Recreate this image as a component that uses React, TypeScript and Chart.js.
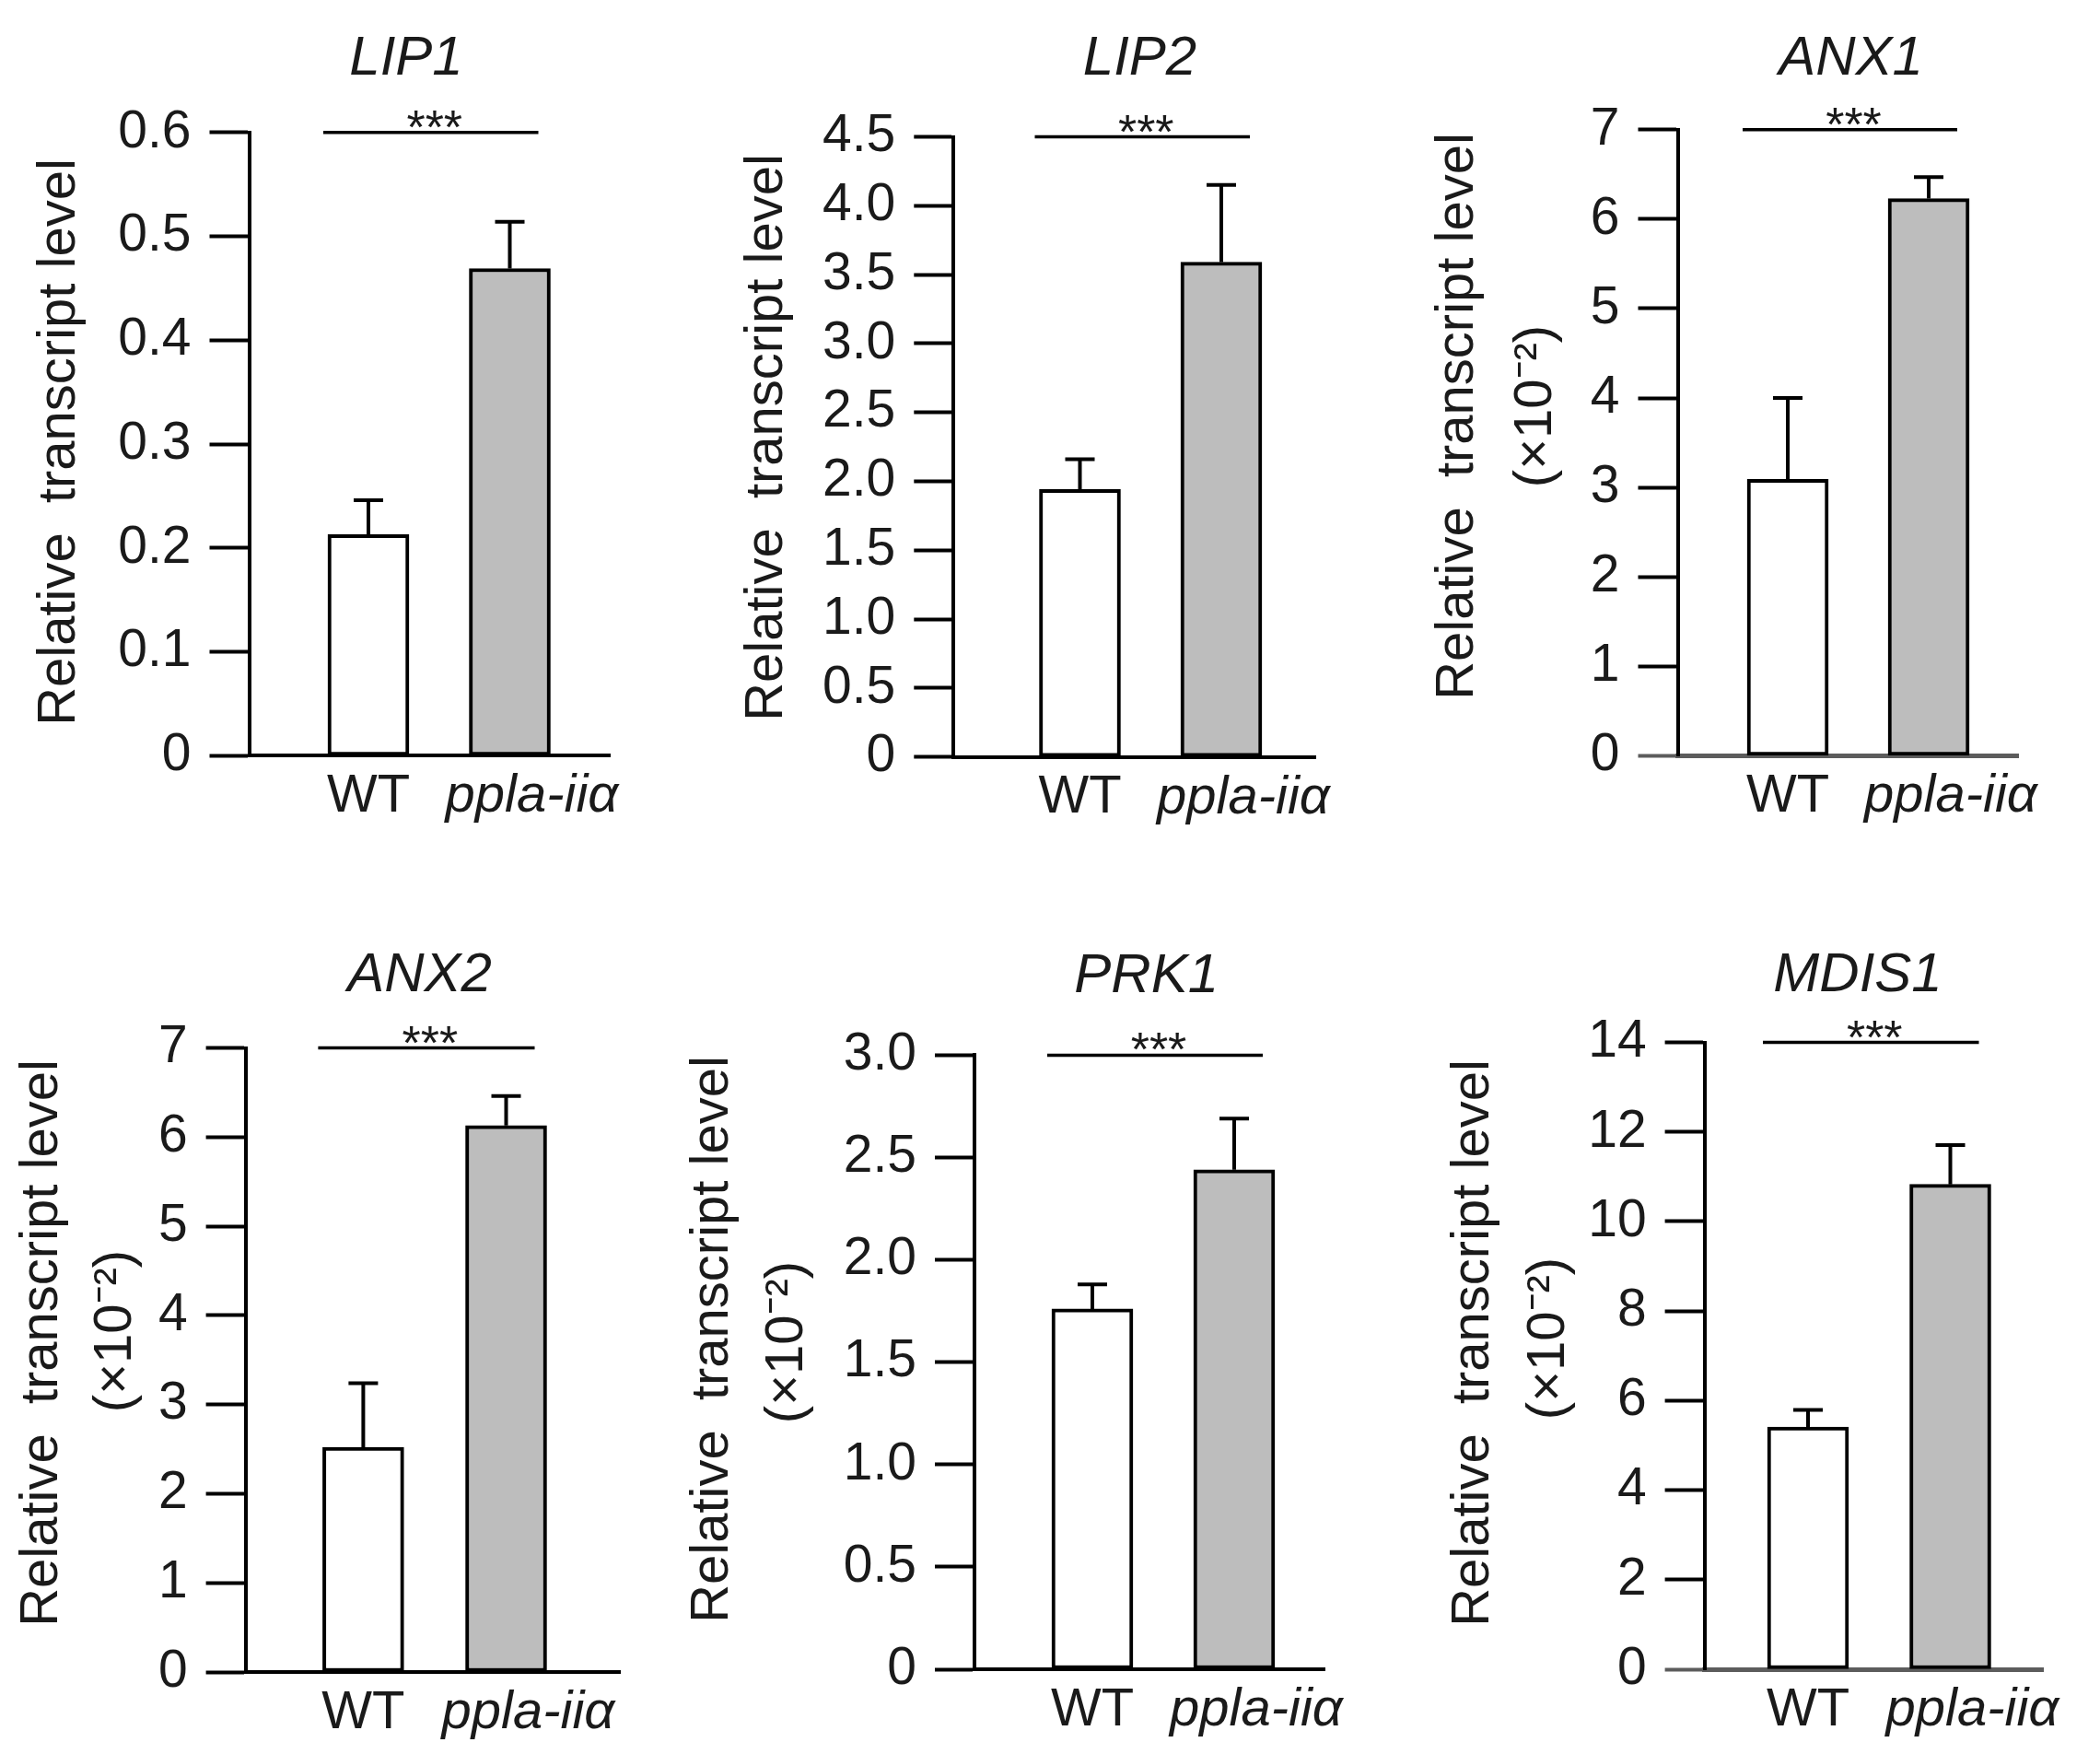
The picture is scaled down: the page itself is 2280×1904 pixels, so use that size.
import React, { useEffect, useRef } from 'react';
import { Chart, registerables } from 'chart.js';

Chart.register(...registerables);

// ---- data -------------------------------------------------------------
const genes = ['LIP1', 'LIP2', 'ANX1', 'ANX2', 'PRK1', 'MDIS1'];
const groups = ['WT', 'ppla-iiα'];
const wtMean = [0.213, 1.94, 3.09, 2.52, 1.76, 5.41];
const wtErr = [0.033, 0.22, 0.91, 0.72, 0.12, 0.38];
const mutantMean = [0.469, 3.59, 6.23, 6.13, 2.44, 10.83];
const mutantErr = [0.045, 0.56, 0.24, 0.33, 0.25, 0.88];
const axisMax = [0.6, 4.5, 7, 7, 3.0, 14];
const axisStep = [0.1, 0.5, 1, 1, 0.5, 2];
const axisDecimals = [1, 1, 0, 0, 1, 0];
const unitNotes = ['', '', '(×10⁻²)', '(×10⁻²)', '(×10⁻²)', '(×10⁻²)'];
const significance = ['***', '***', '***', '***', '***', '***'];
const yTitle = 'Relative  transcript level';

// ---- layout (page pixels) ---------------------------------------------
const ROW_H = 952;
const FONT = '"Liberation Sans", Arial, Helvetica, sans-serif';
const TEXT = '#1a1a1a';

type Box = {
  left: number; right: number; top: number;
  plotLeft: number; plotRight: number; plotTop: number; plotBottom: number;
  wtX: number; mutX: number;
  titleX: number; titleY: number;
  labelX: number; labelY: number;
  noteX: number; noteY: number;
  baseColor: string;
};

const boxes: Box[] = [
  { left: 0, right: 760, top: 0, plotLeft: 270.5, plotRight: 662, plotTop: 143.8, plotBottom: 820.4, wtX: 400, mutX: 553.5,
    titleX: 441, titleY: 59, labelX: 65, labelY: 480, noteX: 0, noteY: 0, baseColor: '#000' },
  { left: 740, right: 1520, top: 0, plotLeft: 1035.3, plotRight: 1428, plotTop: 148.5, plotBottom: 821.6, wtX: 1172.5, mutX: 1326,
    titleX: 1237.5, titleY: 59, labelX: 833, labelY: 475, noteX: 0, noteY: 0, baseColor: '#000' },
  { left: 1500, right: 2280, top: 0, plotLeft: 1821.5, plotRight: 2191.4, plotTop: 140.8, plotBottom: 820.4, wtX: 1941, mutX: 2094,
    titleX: 2009.6, titleY: 59, labelX: 1583, labelY: 452, noteX: 1668, noteY: 441, baseColor: '#5c5c5c' },
  { left: 0, right: 760, top: 952, plotLeft: 266.6, plotRight: 673.8, plotTop: 1137.6, plotBottom: 1815, wtX: 394.4, mutX: 549.5,
    titleX: 455.6, titleY: 1054, labelX: 46, labelY: 1458, noteX: 126, noteY: 1445, baseColor: '#000' },
  { left: 700, right: 1520, top: 952, plotLeft: 1058, plotRight: 1438.6, plotTop: 1145.4, plotBottom: 1812, wtX: 1186, mutX: 1340,
    titleX: 1244.7, titleY: 1055, labelX: 774, labelY: 1454, noteX: 855, noteY: 1457, baseColor: '#000' },
  { left: 1500, right: 2280, top: 952, plotLeft: 1850.6, plotRight: 2218, plotTop: 1131.6, plotBottom: 1812, wtX: 1963, mutX: 2117.5,
    titleX: 2017, titleY: 1054, labelX: 1600, labelY: 1458, noteX: 1682, noteY: 1453, baseColor: '#5c5c5c' },
];

const BAR_W = 88;
const LINE_W = 4;
const LABEL_SHIFT_PX = 24; // mutant label sits a little right of its bar

function GenePanel({ index }: { index: number }) {
  const ref = useRef<HTMLCanvasElement>(null);
  const b = boxes[index];
  const width = b.right - b.left;

  useEffect(() => {
    const spacing = b.mutX - b.wtX;
    const xMin = 1 - (b.wtX - b.plotLeft) / spacing;
    const xMax = 2 + (b.plotRight - b.mutX) / spacing;
    const labelShift = LABEL_SHIFT_PX / spacing;

    const decorations = {
      id: 'decorations',
      afterDatasetsDraw(chart: any) {
        const ctx = chart.ctx;
        const ys = chart.scales.y;
        const meta = chart.getDatasetMeta(0);
        const means = [wtMean[index], mutantMean[index]];
        const errs = [wtErr[index], mutantErr[index]];
        ctx.save();
        ctx.strokeStyle = '#000';
        ctx.lineWidth = LINE_W;
        ctx.lineCap = 'butt';
        // upper error bars
        meta.data.forEach((bar: any, k: number) => {
          const yTop = ys.getPixelForValue(means[k] + errs[k]);
          ctx.beginPath();
          ctx.moveTo(bar.x, bar.y);
          ctx.lineTo(bar.x, yTop);
          ctx.moveTo(bar.x - 16, yTop);
          ctx.lineTo(bar.x + 16, yTop);
          ctx.stroke();
        });
        // significance bracket
        const lineY = ys.getPixelForValue(axisMax[index]);
        const x0 = meta.data[0].x - BAR_W / 2 - 5;
        const x1 = meta.data[1].x + BAR_W / 2 - 13;
        ctx.lineWidth = 3.5;
        ctx.beginPath();
        ctx.moveTo(x0, lineY);
        ctx.lineTo(x1, lineY);
        ctx.stroke();
        ctx.fillStyle = TEXT;
        ctx.font = `52px ${FONT}`;
        ctx.textAlign = 'center';
        ctx.textBaseline = 'alphabetic';
        ctx.fillText(significance[index], (x0 + x1) / 2 + 4, lineY + 12);
        // gene name
        ctx.font = `italic 60px ${FONT}`;
        ctx.fillText(genes[index], b.titleX - b.left, b.titleY - b.top + 21.5);
        // y-axis title (and unit note)
        ctx.font = `58px ${FONT}`;
        ctx.textBaseline = 'middle';
        const vertical = (text: string, x: number, y: number) => {
          ctx.save();
          ctx.translate(x - b.left, y - b.top);
          ctx.rotate(-Math.PI / 2);
          ctx.fillText(text, 0, 0);
          ctx.restore();
        };
        vertical(yTitle, b.labelX, b.labelY);
        if (unitNotes[index]) vertical(unitNotes[index], b.noteX, b.noteY);
        ctx.restore();
      },
    };

    const chart = new Chart(ref.current!, {
      type: 'bar',
      data: {
        datasets: [
          {
            data: [
              { x: 1, y: wtMean[index] },
              { x: 2, y: mutantMean[index] },
            ],
            backgroundColor: ['#ffffff', '#bdbdbd'],
            borderColor: '#000',
            borderWidth: LINE_W,
            borderSkipped: false,
            barThickness: BAR_W,
          } as any,
        ],
      },
      options: {
        responsive: false,
        animation: false,
        devicePixelRatio: 1,
        layout: {
          padding: {
            left: 0,
            top: b.plotTop - b.top,
            right: b.right - b.plotRight,
            bottom: 0,
          },
        },
        plugins: {
          legend: { display: false },
          title: { display: false },
          tooltip: { enabled: false },
        },
        scales: {
          x: {
            type: 'linear',
            min: xMin,
            max: xMax,
            offset: false,
            grid: { display: true, drawOnChartArea: false, drawTicks: false },
            border: { display: true, color: b.baseColor, width: LINE_W + (b.baseColor === '#000' ? 0 : 1) },
            afterBuildTicks: (scale: any) => {
              scale.ticks = [{ value: 1 }, { value: 2 + labelShift }];
            },
            afterFit: (scale: any) => {
              scale.height = b.top + ROW_H - b.plotBottom;
            },
            ticks: {
              autoSkip: false,
              maxRotation: 0,
              padding: 10,
              color: TEXT,
              font: (ctx: any) => ({
                family: FONT,
                size: 58,
                style: ctx.index === 1 ? 'italic' : 'normal',
              }),
              callback: (_v: any, k: number) => groups[k],
            },
          },
          y: {
            type: 'linear',
            min: 0,
            max: axisMax[index],
            grid: {
              display: true,
              drawOnChartArea: false,
              drawTicks: true,
              tickLength: 43,
              tickWidth: LINE_W,
              tickColor: (ctx: any) => (ctx.tick && ctx.tick.value === 0 ? b.baseColor : '#000'),
            },
            border: { display: true, color: '#000', width: LINE_W },
            afterFit: (scale: any) => {
              scale.width = b.plotLeft - b.left;
            },
            ticks: {
              stepSize: axisStep[index],
              padding: 20,
              color: TEXT,
              font: { family: FONT, size: 57 },
              callback: (v: any) => (Number(v) === 0 ? '0' : Number(v).toFixed(axisDecimals[index])),
            },
          },
        },
      } as any,
      plugins: [decorations],
    });

    return () => chart.destroy();
  }, [index]);

  return (
    <canvas
      ref={ref}
      width={width}
      height={ROW_H}
      style={{ position: 'absolute', left: b.left, top: b.top, width, height: ROW_H }}
    />
  );
}

export default function App() {
  return (
    <div style={{ position: 'absolute', left: 0, top: 0, width: 2280, height: 1904, background: '#fff', overflow: 'hidden' }}>
      {genes.map((g, i) => (
        <GenePanel key={g} index={i} />
      ))}
    </div>
  );
}
